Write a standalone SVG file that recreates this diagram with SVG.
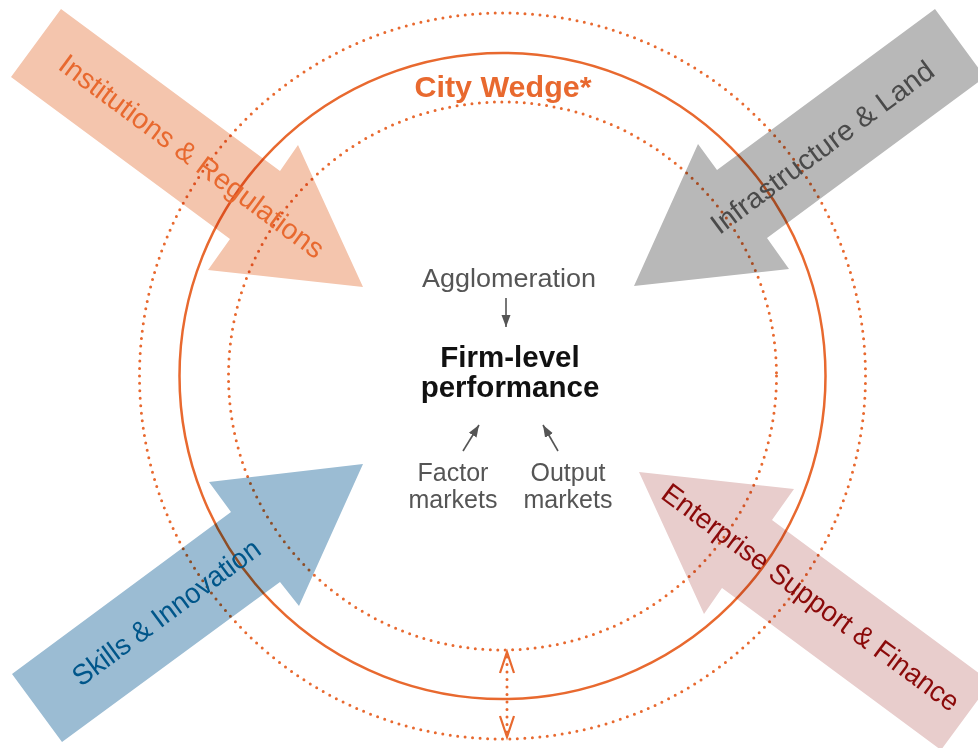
<svg xmlns="http://www.w3.org/2000/svg" width="978" height="748" viewBox="0 0 978 748">
<style>
.ring{fill:none;stroke:#E8692F}
.dots{fill:none;stroke:#E8692F;stroke-width:3;stroke-linecap:round;stroke-dasharray:0 7.5}
.blk{mix-blend-mode:multiply}
.lbl{font-family:"Liberation Sans",Arial,sans-serif;font-size:28.5px;text-anchor:middle}
.ctr{font-family:"Liberation Sans",Arial,sans-serif;font-size:25px;fill:#555;text-anchor:middle}
.bold{font-family:"Liberation Sans",Arial,sans-serif;font-weight:bold;text-anchor:middle}
.conn{stroke:#555;stroke-width:1.6;fill:none}
</style>
<defs>
<marker id="ah" viewBox="0 0 12 10" refX="12" refY="5" markerWidth="12" markerHeight="10" orient="auto" markerUnits="userSpaceOnUse">
<path d="M0,0.5 L12,5 L0,9.5 z" fill="#555"/>
</marker>
</defs>
<rect width="978" height="748" fill="#fff"/>
<g id="city-wedge">
<circle class="dots" cx="502.5" cy="376" r="363"/>
<circle class="dots" cx="502.5" cy="376" r="274"/>
<circle class="ring" cx="502.5" cy="376" r="323" stroke-width="2.5"/>
<text class="bold" x="503" y="97" font-size="30" fill="#E8692F" textLength="177" lengthAdjust="spacingAndGlyphs">City Wedge*</text>
</g>
<g id="institutions">
<polygon class="blk" points="61,9 280,171 298,145 363,287 208,270 230,239 11,77" fill="#F4C5AD"/>
<text class="lbl" transform="translate(192,156) rotate(36.5)" y="10" fill="#E8692F" textLength="322" lengthAdjust="spacingAndGlyphs">Institutions &amp; Regulations</text>
</g>
<g id="infrastructure">
<polygon class="blk" points="935,9 717,170 698,144 634,286 789,269 767,238 985,77" fill="#B8B8B8"/>
<text class="lbl" transform="translate(822,147) rotate(-36.5)" y="10" fill="#4A4A4A" textLength="270" lengthAdjust="spacingAndGlyphs">Infrastructure &amp; Land</text>
</g>
<g id="skills">
<polygon class="blk" points="12,674 231,512 209,482 363,464 299,606 280,582 62,742" fill="#9BBCD3"/>
<text class="lbl" transform="translate(166,612) rotate(-36.5)" y="10" fill="#00568A" textLength="226" lengthAdjust="spacingAndGlyphs">Skills &amp; Innovation</text>
</g>
<g id="enterprise">
<polygon class="blk" points="639,472 794,489 772,520 991,682 941,750 722,588 704,614" fill="#E8CDCC"/>
<text class="lbl" transform="translate(811,597) rotate(36.5)" y="10" fill="#8B0A0A" textLength="362" lengthAdjust="spacingAndGlyphs">Enterprise Support &amp; Finance</text>
</g>
<g id="agglomeration">
<text class="ctr" x="509" y="287" font-size="26" textLength="174" lengthAdjust="spacingAndGlyphs">Agglomeration</text>
</g>
<g id="firm-performance">
<text class="bold" x="510" y="367" font-size="29.5" fill="#111">Firm-level</text>
<text class="bold" x="510" y="397" font-size="29.5" fill="#111">performance</text>
</g>
<g id="factor-markets">
<text class="ctr" x="453" y="481">Factor</text>
<text class="ctr" x="453" y="508">markets</text>
</g>
<g id="output-markets">
<text class="ctr" x="568" y="481">Output</text>
<text class="ctr" x="568" y="508">markets</text>
</g>
<g id="connectors">
<line class="conn" x1="506" y1="298" x2="506" y2="327" marker-end="url(#ah)"/>
<line class="conn" x1="463" y1="451" x2="479" y2="425" marker-end="url(#ah)"/>
<line class="conn" x1="558" y1="451" x2="543" y2="425" marker-end="url(#ah)"/>
<line class="dots" x1="507" y1="657" x2="507" y2="733" stroke-width="2.6"/>
<polyline points="500,673 507,652 514,673" fill="none" stroke="#E8692F" stroke-width="2.2"/>
<polyline points="500,716 507,737 514,716" fill="none" stroke="#E8692F" stroke-width="2.2"/>
</g>
</svg>
